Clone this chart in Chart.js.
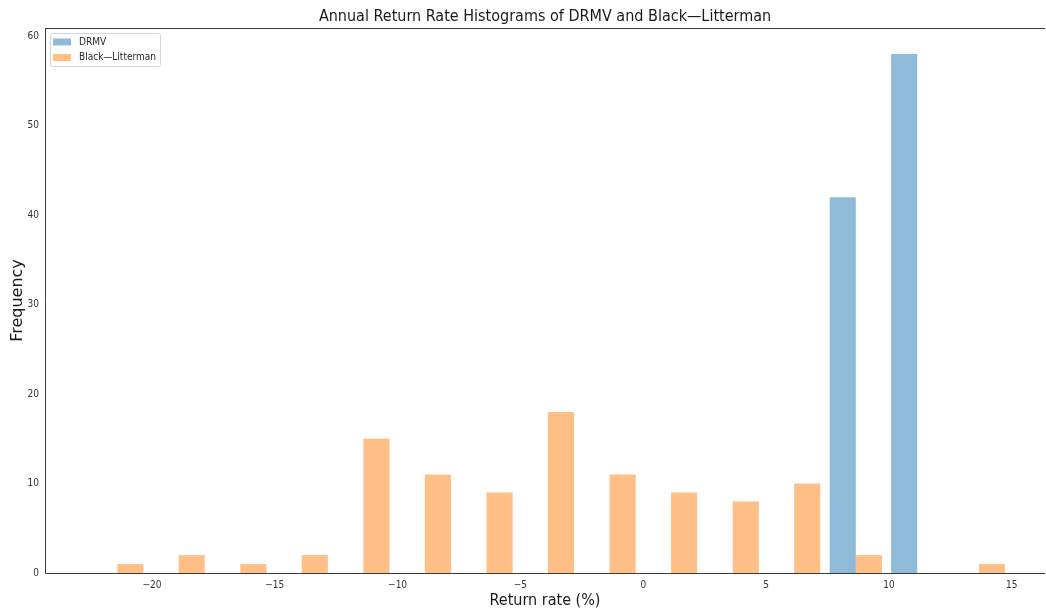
<!DOCTYPE html>
<html>
<head>
<meta charset="utf-8">
<script src="https://cdn.jsdelivr.net/npm/chart.js@4/dist/chart.umd.min.js"></script>
<style>
  html, body { margin: 0; padding: 0; background: #fff; }
  #wrap { width: 1046px; height: 611px; }
</style>
</head>
<body>
<div id="wrap"><canvas id="c" width="1046" height="611"></canvas></div>
<script>
// Histogram bin centres (annual return rate, %)
const binCenters = [-21.41, -18.91, -16.40, -13.90, -11.39, -8.89, -6.38, -3.88, -1.37, 1.13, 3.64, 6.14, 8.65, 11.15, 13.66];
// Counts per bin
const drmvCounts = [0, 0, 0, 0, 0, 0, 0, 0, 0, 0, 0, 0, 42, 58, 0];
const blCounts   = [1, 2, 1, 2, 15, 11, 9, 18, 11, 9, 8, 10, 2, 0, 1];
const seriesNames = ['DRMV', 'Black\u2014Litterman'];
const xTicks = [-20, -15, -10, -5, 0, 5, 10, 15];
const yTicks = [0, 10, 20, 30, 40, 50, 60];

const FONT = 'DejaVu Sans Condensed, DejaVu Sans, sans-serif';
const FONT_WIDE = 'DejaVu Sans, sans-serif';
const blue = 'rgba(31,119,180,0.5)';
const orange = 'rgba(255,127,14,0.5)';

const toPoints = counts => binCenters.map((x, i) => ({ x: x, y: counts[i] }));

// Legend box drawn inside the plot area, upper left
const innerLegend = {
  id: 'innerLegend',
  afterDraw(chart) {
    const ctx = chart.ctx;
    const a = chart.chartArea;
    const x0 = a.left + 5, y0 = a.top + 5, w = 110, h = 33;
    ctx.save();
    ctx.fillStyle = 'rgba(255,255,255,0.8)';
    ctx.strokeStyle = '#d6d6d6';
    ctx.lineWidth = 1;
    ctx.beginPath();
    ctx.roundRect(x0 + 0.5, y0 + 0.5, w, h, 2);
    ctx.fill();
    ctx.stroke();
    ctx.font = '10px ' + FONT;
    ctx.textBaseline = 'middle';
    chart.data.datasets.forEach((ds, i) => {
      const cy = y0 + 9 + i * 15.5;
      ctx.fillStyle = ds.backgroundColor;
      ctx.fillRect(x0 + 3, cy - 3.5, 18, 7);
      ctx.fillStyle = '#262626';
      ctx.fillText(ds.label, x0 + 29, cy);
    });
    ctx.restore();
  }
};

// Axis spines: left, bottom and top
const spines = {
  id: 'spines',
  afterDatasetsDraw(chart) {
    const ctx = chart.ctx;
    const a = chart.chartArea;
    ctx.save();
    ctx.strokeStyle = '#3a3a3a';
    ctx.lineWidth = 1;
    ctx.beginPath();
    ctx.moveTo(Math.round(a.left) + 0.5, a.top);
    ctx.lineTo(Math.round(a.left) + 0.5, Math.round(a.bottom) + 0.5);
    ctx.lineTo(a.right, Math.round(a.bottom) + 0.5);
    ctx.moveTo(a.left, Math.round(a.top) + 0.5);
    ctx.lineTo(a.right, Math.round(a.top) + 0.5);
    ctx.stroke();
    ctx.restore();
  }
};

const fmt = v => String(v).replace('-', '\u2212');

new Chart(document.getElementById('c'), {
  type: 'bar',
  data: {
    datasets: [
      { label: seriesNames[0], data: toPoints(drmvCounts), backgroundColor: blue, borderWidth: 0 },
      { label: seriesNames[1], data: toPoints(blCounts), backgroundColor: orange, borderWidth: 0 }
    ]
  },
  options: {
    responsive: false,
    animation: false,
    devicePixelRatio: 1,
    layout: { padding: { left: 0, right: 1, top: 0, bottom: 0 } },
    datasets: { bar: { categoryPercentage: 0.85, barPercentage: 1.0, grouped: true } },
    plugins: {
      legend: { display: false },
      tooltip: { enabled: false },
      title: {
        display: true,
        fullSize: false,
        text: 'Annual Return Rate Histograms of DRMV and Black\u2014Litterman',
        color: '#1a1a1a',
        font: { family: FONT, size: 16, weight: 'normal' },
        padding: { top: 7.5, bottom: 1.3 }
      }
    },
    scales: {
      x: {
        type: 'linear',
        offset: false,
        min: -24.35,
        max: 16.35,
        grid: { display: false, drawTicks: true, tickLength: 4 },
        border: { display: false },
        afterBuildTicks: s => { s.ticks = xTicks.map(v => ({ value: v })); },
        ticks: {
          color: '#333',
          font: { family: FONT, size: 10 },
          padding: 2,
          maxRotation: 0,
          callback: v => fmt(v)
        },
        title: {
          display: true,
          text: 'Return rate (%)',
          color: '#1a1a1a',
          font: { family: FONT, size: 16 },
          padding: { top: 0, bottom: 0.5 }
        },
        afterFit: s => { s.height = 38; }
      },
      y: {
        min: 0,
        max: 60.9,
        grid: { display: false, tickLength: 4 },
        border: { display: false },
        afterBuildTicks: s => { s.ticks = yTicks.map(v => ({ value: v })); },
        ticks: {
          color: '#333',
          font: { family: FONT, size: 10 },
          padding: 2
        },
        title: {
          display: true,
          text: 'Frequency',
          color: '#1a1a1a',
          font: { family: FONT_WIDE, size: 16 },
          padding: { top: 8.5, bottom: 0 }
        },
        afterFit: s => { s.width = 45; }
      }
    }
  },
  plugins: [innerLegend, spines]
});
</script>
</body>
</html>
